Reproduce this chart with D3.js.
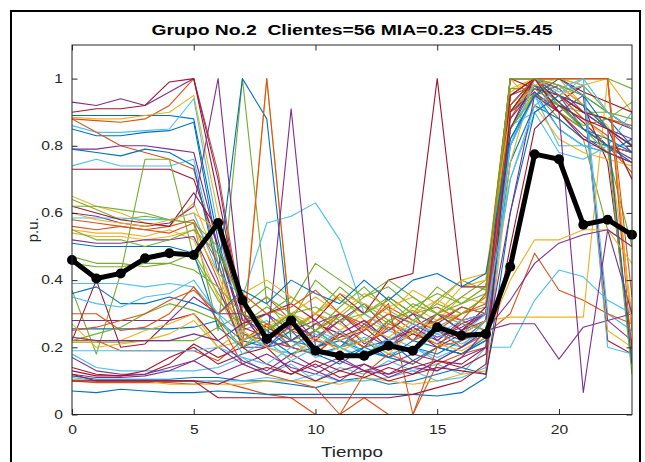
<!DOCTYPE html>
<html>
<head>
<meta charset="utf-8">
<script src="https://cdnjs.cloudflare.com/ajax/libs/d3/7.8.5/d3.min.js"></script>
<style>
  html, body { margin: 0; padding: 0; background: #fff; }
  svg { display: block; font-family: Arial, "Liberation Sans", Helvetica, sans-serif; }
</style>
</head>
<body>
<svg id="chart" width="645" height="462"></svg>
<script>
// Horas del dia (eje x)
const horas = [0,1,2,3,4,5,6,7,8,9,10,11,12,13,14,15,16,17,18,19,20,21,22,23];

// Perfil de cada cliente del grupo (p.u.), 56 curvas
const clientes = [
  [0.89,0.89,0.89,0.89,0.89,0.88, 0.52,0.26,0.30,0.22,0.25,0.20,0.27,0.22,0.18,0.25,0.22,0.28, 0.85,0.98,0.95,0.90,0.88,0.80],
  [0.88,0.875,0.87,0.88,0.92,1.00, 0.72,0.30,0.35,0.28,0.22,0.30,0.25,0.35,0.30,0.32,0.28,0.25, 1.00,1.00,1.00,1.00,1.00,0.25],
  [0.885,0.88,0.88,0.89,0.90,0.95, 0.60,0.32,0.27,0.24,0.30,0.35,0.28,0.25,0.32,0.28,0.35,0.33, 0.90,1.00,1.00,0.92,0.86,0.70],
  [0.93,0.92,0.94,0.92,0.96,1.00, 0.70,0.28,0.25,0.30,0.22,0.28,0.33,0.25,0.30,0.27,0.32,0.30, 1.00,1.00,0.97,0.90,0.85,0.78],
  [0.64,0.61,0.58,0.59,0.58,0.57, 0.25,1.00,0.33,0.25,0.30,0.27,0.33,0.28,0.31,0.26,0.30,0.32, 0.90,0.95,0.92,0.90,0.90,0.85],
  [0.86,0.84,0.84,0.845,0.85,0.94, 0.55,0.25,0.28,0.20,0.25,0.22,0.18,0.20,0.25,0.22,0.20,0.28, 0.90,0.97,0.92,0.85,0.80,0.75],
  [0.90,0.91,0.91,0.92,0.99,1.00, 0.65,0.30,0.22,0.20,0.18,0.24,0.20,0.28,0.22,0.30,0.25,0.32, 0.95,1.00,0.93,0.98,0.22,0.18],

  [0.85,0.83,0.83,0.84,0.845,0.87, 0.48,0.22,0.20,0.25,0.18,0.20,0.22,0.17,0.20,0.18,0.22,0.25, 0.82,0.95,0.98,0.95,0.90,0.85],
  [0.88,0.84,0.80,0.78,0.76,0.73, 0.45,0.24,0.22,0.26,0.30,0.25,0.20,0.27,0.24,0.30,0.28,0.30, 0.88,1.00,0.90,0.85,0.80,0.72],
  [0.65,0.62,0.60,0.57,0.56,0.63, 0.45,0.20,0.27,0.22,0.18,0.25,0.30,0.26,0.22,0.28,0.30,0.35, 0.96,1.00,0.95,0.88,0.82,0.30],
  [0.79,0.79,0.80,0.80,0.79,0.78, 0.50,0.28,0.30,0.25,0.28,0.22,0.25,0.30,0.27,0.23,0.26,0.30, 0.95,0.98,0.90,0.83,0.78,0.75],
  [0.45,0.44,0.44,0.45,0.45,0.48, 0.36,0.27,0.32,0.28,0.40,0.34,0.30,0.35,0.30,0.38,0.33,0.36, 0.80,0.95,1.00,0.98,0.90,0.85],
  [0.74,0.76,0.74,0.74,0.74,0.76, 0.45,0.24,0.20,0.18,0.22,0.20,0.17,0.23,0.20,0.17,0.20,0.25, 0.86,0.90,0.78,0.76,0.80,0.90],
  [0.73,0.73,0.73,0.73,0.73,0.70, 0.50,0.26,0.23,0.27,0.20,0.23,0.26,0.20,0.24,0.21,0.25,0.30, 0.92,1.00,0.98,0.92,0.75,0.20],

  [0.79,0.78,0.77,0.79,0.78,0.74, 0.42,1.00,0.88,0.22,0.20,0.17,0.20,0.22,0.16,0.20,0.18,0.22, 0.80,0.96,0.85,0.80,0.78,0.82],
  [0.58,0.57,0.56,0.55,0.56,0.58, 0.45,0.24,0.22,0.20,0.25,0.30,0.27,0.32,0.28,0.25,0.30,0.33, 0.95,1.00,0.97,0.90,0.88,0.86],
  [0.55,0.54,0.54,0.53,0.55,0.52, 0.35,0.22,1.00,0.26,0.30,0.27,0.22,0.25,0.30,0.34,0.30,0.35, 0.97,1.00,0.95,0.98,0.25,0.20],
  [0.60,0.59,0.57,0.56,0.57,0.62, 1.00,0.30,0.20,0.27,0.23,0.28,0.21,0.25,0.30,0.22,0.27,0.30, 0.88,0.97,0.92,0.85,0.80,0.76],
  [0.37,0.18,0.42,0.76,0.76,0.47, 0.34,0.26,0.30,0.35,0.30,0.38,0.32,0.27,0.33,0.30,0.35,0.40, 0.85,0.96,0.88,0.82,0.55,0.50],
  [0.585,0.585,0.585,0.58,0.58,0.60, 0.42,0.35,0.57,0.59,0.63,0.52,0.30,0.25,0.22,0.27,0.24,0.30, 0.85,0.95,0.80,0.80,0.80,0.80],
  [0.62,0.60,0.58,0.57,0.56,0.66, 0.55,0.30,0.26,0.22,0.27,0.24,0.28,0.22,0.25,0.20,0.24,0.28, 1.00,1.00,0.93,0.87,0.80,0.78],

  [0.51,0.50,0.50,0.50,0.50,0.48, 0.26,0.20,0.23,0.18,0.20,0.22,0.19,0.17,0.22,0.20,0.18,0.22, 0.75,0.92,0.88,0.82,0.80,0.78],
  [0.56,0.55,0.56,0.55,0.54,0.57, 0.40,0.20,1.00,0.25,0.22,0.20,0.25,0.30,0.25,0.28,0.32,0.30, 0.90,0.98,0.90,0.85,0.80,0.78],
  [0.54,0.53,0.53,0.52,0.53,0.55, 0.42,0.22,0.27,0.30,0.35,0.30,0.36,0.32,0.35,0.30,0.38,0.40, 1.00,0.92,0.82,0.78,0.76,0.74],
  [0.52,0.51,0.51,0.52,0.52,0.53, 0.38,0.20,0.20,0.91,0.20,0.24,0.28,0.22,0.26,0.30,0.25,0.28, 0.90,0.96,0.90,0.95,0.28,0.22],
  [0.215,0.215,0.215,0.22,0.22,0.22, 0.26,0.30,0.27,0.22,0.25,0.20,0.22,0.28,0.24,0.30,0.27,0.25, 0.85,0.95,0.90,0.85,0.78,0.50],
  [0.39,0.39,0.39,0.38,0.39,0.38, 0.30,0.24,0.20,0.22,0.17,0.20,0.23,0.18,0.20,0.16,0.20,0.24, 0.70,0.90,0.95,1.00,0.30,0.25],
  [0.22,0.40,0.20,0.21,0.28,0.30, 0.22,0.27,0.30,0.33,0.28,0.36,0.30,0.40,0.42,1.00,0.38,0.38, 1.00,0.97,0.95,0.92,0.85,0.70],

  [0.255,0.255,0.255,0.255,0.255,0.26, 0.28,0.22,0.25,0.20,0.18,0.15,0.20,0.17,0.15,0.20,0.18,0.23, 0.90,0.98,0.93,0.85,0.82,0.78],
  [0.22,0.22,0.19,0.19,0.19,0.19, 0.16,0.22,0.27,0.20,0.18,0.24,0.20,0.26,0.22,0.25,0.20,0.24, 0.30,0.48,0.37,0.34,0.30,0.27],
  [0.23,0.22,0.22,0.25,0.27,0.30, 0.20,0.22,0.26,0.30,0.27,0.22,0.26,0.23,0.28,0.26,0.24,0.28, 0.29,0.29,0.29,0.29,1.00,0.90],
  [0.28,0.28,0.28,0.28,0.28,0.35, 0.30,0.30,0.20,0.22,0.27,0.30,0.24,0.20,0.26,0.22,0.28,0.30, 0.92,1.00,0.95,0.90,0.85,0.82],
  [0.22,0.24,0.26,0.30,0.33,0.31, 0.28,0.20,0.25,0.29,0.25,0.32,0.38,0.31,0.27,0.34,0.40,0.37, 0.97,0.97,0.92,0.85,0.80,0.12],
  [0.18,0.14,0.13,0.13,0.13,0.13, 0.14,0.17,0.12,0.15,0.10,0.14,0.12,0.16,0.13,0.15,0.12,0.20, 0.20,0.34,0.43,0.41,0.34,0.30],
  [0.14,0.12,0.115,0.12,0.15,0.21, 0.17,0.20,0.15,0.12,0.16,0.13,0.15,0.12,0.14,0.16,0.14,0.18, 0.85,1.00,0.95,0.90,0.88,0.85],

  [0.115,0.105,0.105,0.105,0.105,0.11, 0.11,0.10,0.10,0.09,0.08,0.10,0.11,0.09,0.10,0.12,0.14,0.12, 0.90,1.00,0.95,0.85,0.80,0.75],
  [0.10,0.095,0.095,0.095,0.095,0.09, 0.10,0.08,0.06,0.05,0.00,0.00,0.05,0.00,0.00,0.15,0.18,0.20, 0.95,1.00,1.00,1.00,1.00,0.35],
  [0.105,0.10,0.10,0.10,0.09,0.09, 0.09,0.09,0.10,0.10,0.10,0.09,0.11,0.10,0.09,0.10,0.12,0.13, 0.75,1.00,0.98,0.92,0.85,0.80],
  [0.17,0.13,0.12,0.12,0.14,0.16, 0.12,0.15,0.18,0.14,0.12,0.16,0.13,0.15,0.18,0.16,0.20,0.25, 0.27,0.27,0.165,0.26,0.28,0.30],
  [0.47,0.45,0.45,0.44,0.45,0.43, 0.38,0.30,0.35,0.30,0.25,0.29,0.35,0.40,0.35,0.30,0.33,0.38, 0.90,1.00,0.92,0.86,0.88,0.93],
  [0.11,0.10,0.10,0.10,0.10,0.10, 0.10,0.10,0.11,0.10,0.12,0.10,0.10,0.11,0.13,0.10,0.11,0.14, 0.80,0.95,0.85,0.80,0.78,0.75],
  [0.13,0.115,0.115,0.13,0.17,0.20, 0.15,0.18,0.20,0.13,0.10,0.13,0.11,0.14,0.12,0.16,0.15,0.20, 0.95,1.00,1.00,0.96,0.93,0.90],

  [0.07,0.065,0.075,0.07,0.065,0.065, 0.07,0.065,0.06,0.06,0.06,0.06,0.06,0.06,0.06,0.055,0.065,0.11, 0.60,0.90,0.95,0.92,0.85,0.80],
  [0.30,0.30,0.25,0.26,0.30,0.38, 0.28,0.15,0.12,0.10,0.08,0.00,0.12,0.18,0.15,0.20,0.22,0.25, 0.92,1.00,0.95,0.88,0.83,0.15],
  [0.60,0.58,0.57,0.56,0.58,0.60, 0.55,0.36,0.40,0.35,0.30,0.36,0.33,0.30,0.37,0.33,0.40,0.42, 0.90,0.98,1.00,0.98,1.00,0.25],
  [0.12,0.11,0.11,0.115,0.13,0.16, 0.20,0.15,0.12,0.16,0.13,0.10,0.15,0.11,0.14,0.13,0.17,0.20, 0.60,0.95,0.90,0.066,0.55,0.30],
  [0.62,0.62,0.61,0.60,0.58,0.57, 0.50,0.32,0.38,0.33,0.45,0.40,0.35,0.38,0.32,0.36,0.33,0.38, 1.00,1.00,1.00,1.00,1.00,0.97],
  [0.19,0.19,0.19,0.19,0.19,0.19, 0.20,0.17,0.15,0.20,0.24,0.20,0.16,0.22,0.19,0.24,0.21,0.25, 0.80,1.00,0.96,0.98,0.20,0.18],
  [0.12,0.10,0.10,0.10,0.10,0.10, 0.05,0.05,0.05,0.05,0.05,0.05,0.05,0.05,0.06,0.08,0.10,0.15, 0.90,1.00,0.90,0.82,0.78,0.75],

  [0.36,0.38,0.33,0.33,0.35,0.33, 0.30,0.37,0.33,0.40,0.36,0.33,0.40,0.34,0.40,0.42,0.38,0.42, 0.82,0.95,1.00,0.95,0.85,0.15],
  [0.25,0.26,0.28,0.30,0.34,0.37, 0.30,0.36,0.30,0.32,0.37,0.30,0.26,0.33,0.00,0.20,0.28,0.36, 1.00,1.00,1.00,1.00,1.00,0.18],
  [0.27,0.20,0.21,0.22,0.24,0.28, 0.20,0.25,0.20,0.17,0.23,0.19,0.22,0.18,0.25,0.21,0.19,0.23, 0.40,0.52,0.52,0.55,0.55,0.45],
  [0.23,0.22,0.22,0.22,0.22,0.24, 0.22,0.16,0.13,0.18,0.14,0.17,0.13,0.12,0.16,0.13,0.17,0.25, 0.34,0.45,0.51,0.535,0.55,0.50],
  [0.55,0.52,0.52,0.50,0.52,0.55, 0.48,0.34,0.25,0.30,0.32,0.28,0.30,0.34,0.28,0.33,0.30,0.35, 1.00,1.00,0.98,0.95,0.90,0.88],
  [0.35,0.33,0.32,0.35,0.36,0.40, 0.30,0.18,0.22,0.16,0.20,0.25,0.18,0.22,0.27,0.24,0.28,0.30, 0.70,0.92,0.97,1.00,0.90,0.85],
  [0.10,0.10,0.10,0.10,0.10,0.10, 0.09,0.12,0.14,0.12,0.15,0.11,0.13,0.10,0.12,0.14,0.13,0.12, 0.50,0.85,0.92,0.88,0.85,0.80]
];

// Centroide del grupo (linea negra)
const centroide = [0.46,0.405,0.42,0.465,0.48,0.475,0.57,0.34,0.225,0.28,0.19,0.175,0.175,0.205,0.19,0.26,0.235,0.24,0.44,0.775,0.76,0.565,0.58,0.535];

// Ticks
const xTicks = [0,5,10,15,20];
const yTicks = [0,0.2,0.4,0.6,0.8,1];
const yTickLabels = ["0","0.2","0.4","0.6","0.8","1"];

// Orden de colores por defecto de MATLAB
const colores = ["#0072BD","#D95319","#EDB120","#7E2F8E","#77AC30","#4DBEEE","#A2142F"];

const titulo = "Grupo No.2  Clientes=56 MIA=0.23 CDI=5.45";

const svg = d3.select("#chart");
const W = 645, H = 462;
const area = { left: 72, right: 632, top: 45, bottom: 414.5 };

// marco negro exterior
svg.append("rect")
  .attr("x", 11).attr("y", 11)
  .attr("width", 629).attr("height", H + 20)
  .attr("fill", "none").attr("stroke", "#000").attr("stroke-width", 2);

const x = d3.scaleLinear().domain([0, 23]).range([area.left, area.right]);
const y = d3.scaleLinear().domain([0, 1.1]).range([area.bottom, area.top]);

// estira el texto en horizontal (la imagen original esta ensanchada)
function estirar(sel, f) {
  sel.each(function () {
    const w = this.getComputedTextLength();
    d3.select(this).attr("textLength", w * f).attr("lengthAdjust", "spacingAndGlyphs");
  });
}

svg.append("clipPath").attr("id", "clip")
  .append("rect")
  .attr("x", area.left).attr("y", area.top - 2)
  .attr("width", area.right - area.left).attr("height", area.bottom - area.top + 4);

const line = d3.line()
  .x((d, i) => x(horas[i]))
  .y(d => y(d));

const gLines = svg.append("g").attr("clip-path", "url(#clip)");

gLines.selectAll("path.cliente")
  .data(clientes)
  .join("path")
  .attr("class", "cliente")
  .attr("d", line)
  .attr("fill", "none")
  .attr("stroke", (d, i) => colores[i % colores.length])
  .attr("stroke-width", 1.1)
  .attr("stroke-linejoin", "round");

// centroide
svg.append("path")
  .datum(centroide)
  .attr("d", line)
  .attr("fill", "none")
  .attr("stroke", "#000")
  .attr("stroke-width", 5)
  .attr("stroke-linejoin", "round");

svg.selectAll("circle.centro")
  .data(centroide)
  .join("circle")
  .attr("class", "centro")
  .attr("cx", (d, i) => x(horas[i]))
  .attr("cy", d => y(d))
  .attr("r", 5)
  .attr("fill", "#000");

// ejes
const ejeColor = "#262626";
const tk = 5.5;

const gx = svg.append("g")
  .attr("transform", `translate(0,${area.bottom})`)
  .call(d3.axisBottom(x).tickValues(xTicks).tickSize(-tk).tickPadding(11).tickFormat(d3.format("d")));
const gxTop = svg.append("g")
  .attr("transform", `translate(0,${area.top})`)
  .call(d3.axisTop(x).tickValues(xTicks).tickSize(-tk).tickFormat(""));
const gy = svg.append("g")
  .attr("transform", `translate(${area.left},0)`)
  .call(d3.axisLeft(y).tickValues(yTicks).tickSize(-tk).tickPadding(9).tickFormat((d, i) => yTickLabels[i]));
const gyRight = svg.append("g")
  .attr("transform", `translate(${area.right},0)`)
  .call(d3.axisRight(y).tickValues(yTicks).tickSize(-tk).tickFormat(""));

[gx, gxTop, gy, gyRight].forEach(g => {
  g.select(".domain").remove();
  g.selectAll("line").attr("stroke", ejeColor).attr("stroke-width", 1);
  g.selectAll("text").attr("fill", ejeColor).style("font-size", "12px");
});
estirar(gx.selectAll("text"), 1.3);
estirar(gy.selectAll("text"), 1.3);

svg.append("rect")
  .attr("x", area.left).attr("y", area.top)
  .attr("width", area.right - area.left).attr("height", area.bottom - area.top)
  .attr("fill", "none").attr("stroke", ejeColor).attr("stroke-width", 1);

// titulo y etiquetas
const tit = svg.append("text")
  .attr("x", (area.left + area.right) / 2)
  .attr("y", 35)
  .attr("text-anchor", "middle")
  .style("font-size", "14px")
  .style("font-weight", "bold")
  .style("white-space", "pre")
  .attr("fill", "#000")
  .text(titulo);
tit.attr("textLength", 401).attr("lengthAdjust", "spacingAndGlyphs");

svg.append("text")
  .attr("x", (area.left + area.right) / 2)
  .attr("y", 457)
  .attr("text-anchor", "middle")
  .style("font-size", "14px")
  .attr("fill", ejeColor)
  .attr("textLength", 62).attr("lengthAdjust", "spacingAndGlyphs")
  .text("Tiempo");

svg.append("text")
  .attr("transform", `translate(38,${(area.top + area.bottom) / 2}) rotate(-90)`)
  .attr("text-anchor", "middle")
  .style("font-size", "15px")
  .attr("fill", ejeColor)
  .text("p.u.");
</script>
</body>
</html>
